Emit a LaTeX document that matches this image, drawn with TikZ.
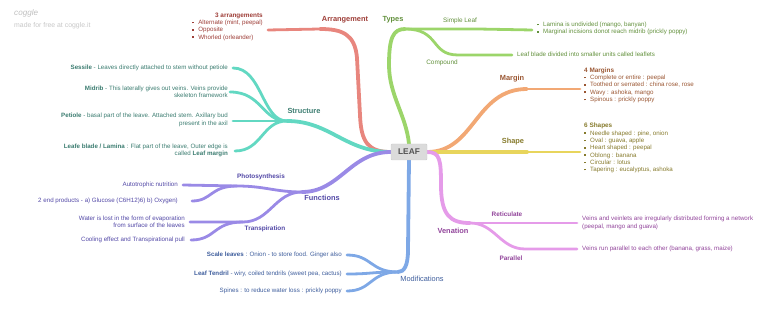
\documentclass[tikz,border=0pt]{standalone}
\usepackage{fontspec}
\setmainfont{Liberation Sans}
\usetikzlibrary{backgrounds}
\definecolor{arrc}{HTML}{E8867E}\definecolor{arrt}{HTML}{9E3E38}
\definecolor{typc}{HTML}{9CD56A}\definecolor{typt}{HTML}{62903C}
\definecolor{strc}{HTML}{62D8C2}\definecolor{strt}{HTML}{3B7C70}
\definecolor{fnc}{HTML}{9A8AE6}\definecolor{fnt}{HTML}{5248A6}
\definecolor{modc}{HTML}{7EA8E6}\definecolor{modt}{HTML}{3E5D9C}
\definecolor{marc}{HTML}{F2A874}\definecolor{mart}{HTML}{9A5632}
\definecolor{shpc}{HTML}{E8D55C}\definecolor{shpt}{HTML}{867A2C}
\definecolor{venc}{HTML}{E59BE9}\definecolor{vent}{HTML}{91449A}
\newcommand\itm{\makebox[6pt][l]{\rule[0.35ex]{1.6pt}{1.6pt}}}
\begin{document}
\begin{tikzpicture}[x=1pt,y=-1pt,
  branch/.style={line width=3.8pt, line cap=round},
  twig/.style={line width=2.8pt, line cap=round},
  lbl/.style={font=\fontsize{7.4}{8}\selectfont\bfseries, inner sep=0pt},
  sublbl/.style={font=\fontsize{6.4}{7}\selectfont\bfseries, inner sep=0pt},
  txt/.style={font=\fontsize{6.2}{7.3}\selectfont, inner sep=0pt}]
  \useasboundingbox (0,0) rectangle (768,312);
  \node[anchor=west, inner sep=0pt, font=\fontsize{8.1}{9}\selectfont\itshape, text=black!25] (logo) at (14,13) {coggle};
  \node[anchor=west, inner sep=0pt, font=\fontsize{6.9}{8}\selectfont, text=black!22] (made) at (14,26) {made for free at coggle.it};
  \node[fill=black!14, draw=black!20, rounded corners=1pt, minimum width=36pt, minimum height=16pt, inner sep=0pt,
    font=\fontsize{8.3}{9}\selectfont\bfseries, text=black!68] (leaf) at (409,152) {LEAF};
  \coordinate (arr) at (320,29);  \coordinate (arrend) at (268,30);
  \coordinate (typ) at (405,29);  \coordinate (simple) at (478,29); \coordinate (simpleend) at (532,30);
  \coordinate (comp) at (458,55); \coordinate (compend) at (512,55);
  \coordinate (str) at (287,121);
  \coordinate (sesend) at (233,68); \coordinate (midend) at (230,92);
  \coordinate (petend) at (233,121); \coordinate (bladeend) at (235,151);
  \coordinate (fn) at (302,192);
  \coordinate (photo) at (237,186); \coordinate (autoend) at (183,185); \coordinate (prodend) at (192,201);
  \coordinate (trans) at (243,222); \coordinate (waterend) at (190,222); \coordinate (coolend) at (191,240);
  \coordinate (mod) at (398,272);
  \coordinate (scaleend) at (347,255); \coordinate (tendend) at (347,274); \coordinate (spineend) at (347,291);
  \coordinate (mar) at (527,89);  \coordinate (marend) at (580,89);
  \coordinate (shp) at (527,152); \coordinate (shpend) at (580,152);
  \coordinate (ven) at (470,223);
  \coordinate (ret) at (525,223); \coordinate (retend) at (577,223);
  \coordinate (par) at (525,249); \coordinate (parend) at (577,249);
  \begin{scope}[on background layer]
    \draw[branch, arrc] (leaf.west) .. controls (368,152) and (361,142) .. (360,115) -- (357,58) .. controls (355,34) and (342,29) .. (arr);
    \draw[twig, arrc] (arr) -- (arrend);
    \draw[branch, typc] (leaf.north) .. controls (406,115) and (389,95) .. (389,65) .. controls (389,38) and (393,29) .. (typ);
    \draw[twig, typc] (typ) -- (simple) -- (simpleend);
    \draw[twig, typc] (typ) .. controls (440,29) and (430,55) .. (comp) -- (compend);
    \draw[branch, strc] (leaf.west) .. controls (345,152) and (330,121) .. (str);
    \foreach \e in {sesend, midend, petend, bladeend}
      \draw[twig, strc] (str) .. controls (262,121) and (262,121 |- \e) .. (\e);
    \draw[branch, fnc] (leaf.west) .. controls (350,152) and (340,192) .. (fn);
    \draw[twig, fnc] (fn) .. controls (275,192) and (265,186) .. (photo) -- (autoend);
    \draw[twig, fnc] (photo) .. controls (210,186) and (212,201) .. (prodend);
    \draw[twig, fnc] (fn) .. controls (275,192) and (270,222) .. (trans) -- (waterend);
    \draw[twig, fnc] (trans) .. controls (213,222) and (216,240) .. (coolend);
    \draw[branch, modc] (leaf.south) -- (408,250) .. controls (408,266) and (404,272) .. (mod);
    \foreach \e in {scaleend, tendend, spineend}
      \draw[twig, modc] (mod) .. controls (370,272) and (372,272 |- \e) .. (\e);
    \draw[branch, marc] (leaf.east) .. controls (475,152) and (475,89) .. (mar);
    \draw[twig, marc] (mar) -- (marend);
    \draw[branch, shpc] (leaf.east) -- (shp);
    \draw[twig, shpc] (shp) -- (shpend);
    \draw[branch, venc] (leaf.east) .. controls (440,152) and (441,160) .. (441,185) .. controls (441,215) and (450,223) .. (ven);
    \draw[twig, venc] (ven) -- (ret) -- (retend);
    \draw[twig, venc] (ven) .. controls (495,223) and (500,249) .. (par) -- (parend);
  \end{scope}
  % branch labels
  \node[lbl, text=arrt] (arrlbl) at (345,20) {Arrangement};
  \node[lbl, text=typt] (typlbl) at (393,20) {Types};
  \node[lbl, text=strt] (strlbl) at (304,111) {Structure};
  \node[lbl, text=fnt] (fnlbl) at (322,198) {Functions};
  \node[lbl, font=\fontsize{7.4}{8}\selectfont, text=modt] (modlbl) at (422,279) {Modifications};
  \node[lbl, text=mart] (marlbl) at (512,79) {Margin};
  \node[lbl, text=shpt] (shplbl) at (513,142) {Shape};
  \node[lbl, text=vent] (venlbl) at (453,231) {Venation};
  \node[sublbl, font=\fontsize{6.4}{7}\selectfont, text=typt] (simplelbl) at (460,21) {Simple Leaf};
  \node[sublbl, font=\fontsize{6.4}{7}\selectfont, text=typt] (complbl) at (442,63) {Compound};
  \node[sublbl, text=fnt] (photolbl) at (261,177) {Photosynthesis};
  \node[sublbl, text=fnt] (translbl) at (265,229) {Transpiration};
  \node[sublbl, text=vent] (retlbl) at (507,214) {Reticulate};
  \node[sublbl, text=vent] (parlbl) at (511,258) {Parallel};
  % leaf texts
  \node[txt, anchor=north east, text=arrt] (arrtxt) at (263,12) {\begin{tabular}{@{}l@{}}
    \multicolumn{1}{@{}r@{}}{\fontsize{6.4}{7.3}\selectfont\bfseries 3 arrangements}\\
    \itm Alternate (mint, peepal)\\ \itm Opposite\\ \itm Whorled (orleander)\end{tabular}};
  \node[txt, anchor=west, align=left, text=typt] (simpletxt) at (537,28.5) {\itm Lamina is undivided (mango, banyan)\\ \itm Marginal incisions donot reach midrib (prickly poppy)};
  \node[txt, anchor=west, text=typt] (comptxt) at (517,54.5) {Leaf blade divided into smaller units called leaflets};
  \node[txt, anchor=east, align=right, text=strt] (sestxt) at (228,68) {\textbf{Sessile} - Leaves directly attached to stem without petiole};
  \node[txt, anchor=east, align=right, text=strt] (midtxt) at (228,92) {\textbf{Midrib} - This laterally gives out veins. Veins provide\\ skeleton framework};
  \node[txt, anchor=east, align=right, text=strt] (pettxt) at (228,120) {\textbf{Petiole} - basal part of the leave. Attached stem. Axillary bud\\ present in the axil};
  \node[txt, anchor=east, align=right, text=strt] (bladetxt) at (228,150.5) {\textbf{Leafe blade / Lamina} : Flat part of the leave, Outer edge is\\ called \textbf{Leaf margin}};
  \node[txt, anchor=east, text=fnt] (autotxt) at (178,185) {Autotrophic nutrition};
  \node[txt, anchor=east, text=fnt] (prodtxt) at (178,201) {2 end products - a) Glucose (C6H12)6) b) Oxygen)};
  \node[txt, anchor=east, align=right, text=fnt] (watertxt) at (185,221.5) {Water is lost in the form of evaporation\\ from surface of the leaves};
  \node[txt, anchor=east, text=fnt] (cooltxt) at (185,240) {Cooling effect and Transpirational pull};
  \node[txt, anchor=east, text=modt] (scaletxt) at (342,255) {\textbf{Scale leaves} : Onion - to store food. Ginger also};
  \node[txt, anchor=east, text=modt] (tendtxt) at (342,274) {\textbf{Leaf Tendril} - wiry, coiled tendrils (sweet pea, cactus)};
  \node[txt, anchor=east, text=modt] (spinetxt) at (342,291) {Spines : to reduce water loss : prickly poppy};
  \node[txt, anchor=north west, align=left, text=mart] (martxt) at (584,67.5) {{\fontsize{6.4}{7.3}\selectfont\bfseries 4 Margins}\\
    \itm Complete or entire : peepal\\ \itm Toothed or serrated : china rose, rose\\ \itm Wavy : ashoka, mango\\ \itm Spinous : prickly poppy};
  \node[txt, anchor=north west, align=left, text=shpt] (shptxt) at (584,123) {{\fontsize{6.4}{7.3}\selectfont\bfseries 6 Shapes}\\
    \itm Needle shaped : pine, onion\\ \itm Oval : guava, apple\\ \itm Heart shaped : peepal\\ \itm Oblong : banana\\ \itm Circular : lotus\\ \itm Tapering : eucalyptus, ashoka};
  \node[txt, anchor=west, align=left, text=vent] (rettxt) at (582,223) {Veins and veinlets are irregularly distributed forming a network\\ (peepal, mango and guava)};
  \node[txt, anchor=west, text=vent] (partxt) at (582,249) {Veins run parallel to each other (banana, grass, maize)};
\end{tikzpicture}
\end{document}
